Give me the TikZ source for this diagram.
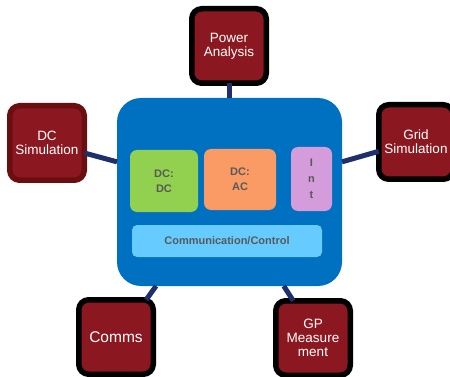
\documentclass[tikz,border=0pt]{standalone}
\usepackage{fontspec}
\setmainfont{Liberation Sans}
\definecolor{boxred}{HTML}{8B1820}
\definecolor{darkred}{HTML}{6A0E10}
\definecolor{mainblue}{HTML}{0070C0}
\definecolor{navy}{HTML}{1F2F6B}
\definecolor{dcgreen}{HTML}{92D050}
\definecolor{dcorange}{HTML}{FA9A64}
\definecolor{intpurple}{HTML}{D59CDB}
\definecolor{commblue}{HTML}{66CCFF}
\definecolor{txtgray}{HTML}{595959}
\begin{document}
\begin{tikzpicture}[x=1pt,y=-1pt,
  outerbox/.style={draw=black,line width=5.5pt,fill=boxred,rounded corners=10pt,
    minimum width=74.5pt,minimum height=74.5pt,inner sep=0pt,outer sep=0pt,
    text=white,align=center,font=\fontsize{13.5}{14}\selectfont},
  innerbox/.style={rounded corners=7pt,inner sep=0pt,outer sep=0pt,
    text=txtgray,align=center,font=\fontsize{11}{15}\selectfont\bfseries},
  link/.style={draw=navy,line width=5pt}]
\useasboundingbox (0,0) rectangle (450,377);
\clip (0,0) rectangle (450,377);
% central block
\node[fill=mainblue,rounded corners=24pt,minimum width=225pt,minimum height=188pt,
  inner sep=0pt,outer sep=0pt] (blue) at (229.5,192) {};
\node[innerbox,fill=dcgreen,minimum width=68pt,minimum height=62pt] (dcdc) at (164,181) {DC:\\DC};
\node[innerbox,fill=dcorange,minimum width=72pt,minimum height=61pt] (dcac) at (240,179.5) {DC:\\AC};
\node[innerbox,fill=intpurple,minimum width=41pt,minimum height=64pt,
  font=\fontsize{11}{16}\selectfont\bfseries] (int) at (311.5,179) {I\\n\\t};
\node[innerbox,fill=commblue,minimum width=190pt,minimum height=32pt,rounded corners=5pt] (comm) at (227,241) {Communication/Control};
% outer boxes
\node[outerbox] (pa) at (229,46) {Power\\Analysis};
\node[outerbox,draw=darkred] (dcs) at (47,143) {DC\\Simulation};
\node[outerbox] (gs) at (416,142) {Grid\\Simulation};
\node[outerbox,font=\fontsize{15.5}{17}\selectfont] (comms) at (116,337) {Comms};
\node[outerbox] (gp) at (313,338) {GP\\Measure\\ment};
% connectors
\draw[link] (pa.south) -- (blue.north -| pa.south);
\draw[link] (dcs.-15) -- (blue.165);
\draw[link] (gs.194) -- (blue.15);
\draw[link] (comms.51) -- (blue.232);
\draw[link] (gp.118) -- (blue.-60);
\end{tikzpicture}
\end{document}
